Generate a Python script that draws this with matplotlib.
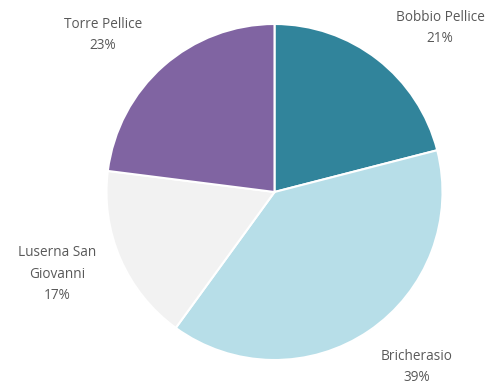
import matplotlib.pyplot as plt

# dati
comuni = ['Bobbio Pellice', 'Bricherasio', 'Luserna San\nGiovanni', 'Torre Pellice']
quote = [21, 39, 17, 23]
colori = ['#31849B', '#B7DEE8', '#F2F2F2', '#8064A2']

fig = plt.figure(figsize=(5.01, 3.87), dpi=100)
ax = fig.add_axes([0, 0, 1, 1])
ax.set_xlim(0, 501)
ax.set_ylim(-387, 0)
ax.set_aspect('equal')
ax.axis('off')

ax.pie(quote, colors=colori, center=(274.5, -192), radius=168,
       startangle=90, counterclock=False,
       wedgeprops=dict(edgecolor='white', linewidth=1.5))

# posizione etichette (come nell'originale, fuori dalla torta)
pos = [(440, -28), (417, -367), (57, -274), (103, -35)]
for nome, q, (x, y) in zip(comuni, quote, pos):
    ax.text(x, y, f'{nome}\n{q}%', ha='center', va='center',
            fontsize=9.8, color='#595959', family='Open Sans',
            linespacing=1.55)

ax.set_xlim(0, 501)
ax.set_ylim(-387, 0)

plt.savefig('out.png', dpi=100)
